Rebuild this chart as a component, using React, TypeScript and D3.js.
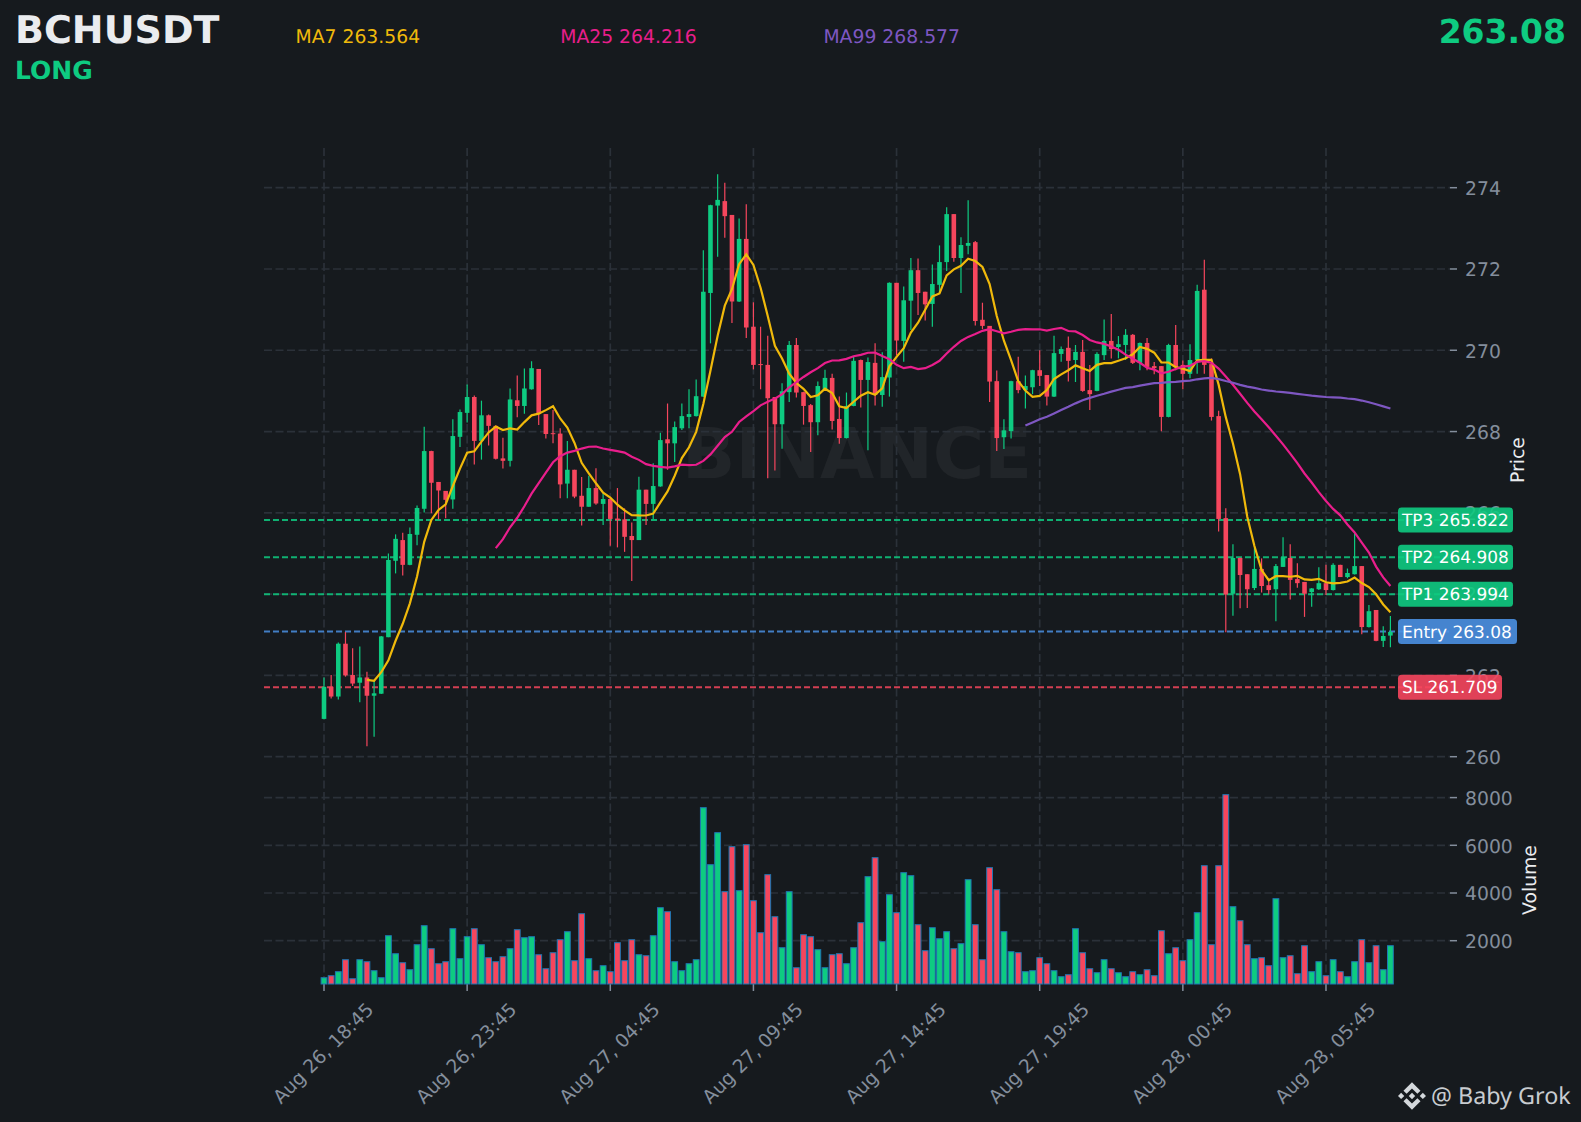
import { useEffect, useRef } from "react";
import * as d3 from "d3";

const opens = [
  260.93,261.72,261.48,262.78,262.01,261.82,261.95,261.50,261.55,262.94,
  264.82,265.33,264.72,265.46,266.10,267.52,266.76,266.54,266.33,267.87,
  268.46,268.85,267.77,268.40,268.14,267.34,267.28,268.77,268.63,269.04,
  269.54,268.43,267.96,267.95,266.72,267.06,266.42,266.15,266.61,266.22,
  266.34,265.86,265.84,265.43,265.33,266.57,266.22,266.65,267.81,267.71,
  268.08,268.36,268.38,268.86,271.41,273.56,273.67,273.33,271.20,272.74,
  270.58,269.66,269.64,268.85,268.18,268.97,270.13,268.97,268.65,268.23,
  269.02,269.32,268.31,267.84,268.63,269.76,269.27,269.69,268.90,269.33,
  271.66,270.23,271.22,271.97,271.44,271.14,271.61,272.17,273.35,272.27,
  272.57,272.66,270.75,270.60,269.24,267.86,268.01,269.24,269.02,269.09,
  269.51,269.39,268.86,269.91,270.06,269.76,269.96,269.02,269.00,269.88,
  270.23,270.08,270.13,270.38,269.69,270.18,269.61,269.61,268.36,270.13,
  269.64,269.42,269.76,271.49,269.66,268.38,265.87,264.01,264.89,264.49,
  264.15,264.62,264.22,264.12,264.67,264.89,264.37,264.30,264.05,264.12,
  264.27,264.10,264.72,264.42,264.49,264.69,263.19,263.61,262.85,262.98,
];
const highs = [
  261.95,262.01,262.81,263.07,262.67,262.71,262.09,261.89,262.97,265.00,
  265.47,265.51,265.64,266.18,268.12,267.53,266.76,266.54,268.30,268.54,
  269.16,268.89,268.76,268.42,268.15,267.85,269.06,269.38,269.55,269.73,
  269.54,268.43,268.53,268.08,267.77,267.06,266.88,266.91,267.10,266.48,
  266.35,266.61,266.11,265.76,266.89,266.57,267.22,267.97,268.69,268.25,
  268.69,269.04,269.28,272.46,273.58,274.33,274.12,273.33,273.24,273.59,
  271.18,270.58,270.36,268.85,269.19,270.23,270.30,268.98,268.68,269.23,
  269.52,269.42,268.86,268.96,269.84,269.77,269.82,270.17,269.95,271.67,
  271.66,271.57,272.27,272.26,271.44,272.11,272.58,273.52,273.35,272.78,
  273.69,272.69,271.17,270.60,269.50,268.30,269.25,269.84,269.38,269.52,
  270.00,269.39,270.36,270.09,270.34,270.13,270.25,269.64,269.95,270.76,
  270.89,270.35,270.52,270.40,270.19,270.30,269.71,269.61,270.16,270.62,
  269.75,270.15,271.61,272.23,269.80,268.51,266.11,265.23,264.90,264.49,
  265.13,264.88,264.39,264.74,265.40,265.23,264.76,264.30,264.15,264.66,
  264.72,264.76,264.72,264.63,265.50,264.69,263.73,263.61,263.21,263.46,
];
const lows = [
  260.92,261.43,261.41,261.97,261.74,261.34,260.26,260.49,261.54,262.94,
  264.51,264.46,264.71,265.20,266.01,265.99,265.84,265.87,266.10,267.62,
  268.22,267.19,267.31,267.66,267.31,267.09,267.14,268.35,268.44,269.03,
  268.16,267.83,267.71,266.36,266.36,266.36,265.69,266.15,266.20,265.70,
  265.19,265.15,265.04,264.32,265.33,265.70,265.84,266.64,267.06,267.25,
  268.04,268.08,268.37,268.85,270.17,272.30,272.77,270.67,271.19,270.30,
  269.53,269.04,266.85,267.04,267.58,268.73,268.84,268.17,267.50,267.91,
  269.01,268.05,267.70,267.83,268.62,268.59,267.54,268.64,268.61,268.86,
  269.88,269.72,270.50,270.87,270.73,270.58,271.41,271.95,272.18,271.41,
  272.36,270.61,270.52,268.73,267.52,267.57,267.83,268.94,268.57,268.92,
  269.12,268.64,268.85,269.72,269.23,269.22,268.98,268.53,268.99,269.76,
  269.80,269.80,269.76,269.66,269.51,269.51,269.41,268.01,268.35,269.51,
  269.04,269.31,269.42,269.42,268.27,265.54,263.06,263.47,263.65,263.66,
  264.10,264.04,264.00,263.33,264.67,263.87,264.16,263.44,263.69,264.10,
  263.98,264.09,264.42,264.39,264.48,263.01,263.18,262.84,262.70,262.69,
];
const closes = [
  261.72,261.48,262.78,262.00,261.80,261.95,261.50,261.56,262.96,264.84,
  265.36,264.72,265.48,266.12,267.52,266.74,266.55,266.32,267.89,268.48,
  268.85,267.77,268.40,268.14,267.33,267.28,268.79,268.63,269.06,269.56,
  268.43,267.94,267.94,266.70,267.06,266.40,266.15,266.61,266.23,266.34,
  265.85,265.82,265.41,265.33,266.57,266.22,266.66,267.79,267.71,268.11,
  268.38,268.43,268.87,271.44,273.57,273.70,273.30,271.20,272.74,270.56,
  269.64,269.64,268.82,268.18,268.99,270.13,268.96,268.63,268.23,269.12,
  269.32,268.26,267.84,268.63,269.74,269.27,269.71,268.90,269.34,271.66,
  270.24,271.23,271.97,271.41,271.13,271.63,272.17,273.35,272.27,272.59,
  272.64,270.72,270.60,269.23,267.84,268.03,269.24,269.02,269.12,269.51,
  269.37,268.86,269.93,270.03,269.74,269.96,269.00,268.92,269.91,270.23,
  270.03,270.15,270.38,269.69,270.18,269.59,269.56,268.36,270.13,269.59,
  269.42,269.76,271.46,269.64,268.36,265.85,263.99,264.89,264.47,264.12,
  264.62,264.20,264.10,264.69,264.91,264.35,264.27,264.01,264.14,264.27,
  264.10,264.72,264.42,264.52,264.69,263.19,263.58,262.85,262.97,263.07,
];
const volumes = [
  448,532,700,1203,406,1203,1119,741,448,2209,
  1454,1077,783,1832,2629,1664,1035,1119,2503,1245,
  2167,2503,1832,1287,1119,1329,1664,2461,2125,2167,
  1412,825,1496,2042,2377,1161,3132,1245,741,951,
  700,1916,1161,2042,1412,1370,2209,3384,3216,1119,
  741,1035,1203,7578,5187,6529,4055,5942,4097,6026,
  3677,2335,4768,3006,1706,4055,867,2251,2167,1622,
  867,1412,1454,1035,1706,2755,4684,5481,1958,3929,
  3174,4852,4726,2671,1580,2545,2083,2377,1664,1874,
  4558,2671,1203,5061,4139,2377,1538,1496,700,741,
  1287,1035,741,490,574,2503,1496,825,657,1203,
  825,657,490,700,574,783,532,2419,1454,1706,
  1161,2042,3174,5145,1832,5145,8123,3426,2838,1832,
  1245,1287,951,3761,1287,1370,616,1790,700,1119,
  532,1203,700,490,1119,2042,1077,1790,783,1790,
];

const xTickLabels = [
  "Aug 26, 18:45", "Aug 26, 23:45", "Aug 27, 04:45", "Aug 27, 09:45",
  "Aug 27, 14:45", "Aug 27, 19:45", "Aug 28, 00:45", "Aug 28, 05:45",
];
const priceTicks = [260, 262, 264, 266, 268, 270, 272, 274];
const volumeTicks = [2000, 4000, 6000, 8000];
const levelNames = ["TP3", "TP2", "TP1", "Entry", "SL"];
const levelValues = [265.822, 264.908, 263.994, 263.08, 261.709];
const levelLabels = ["TP3 265.822", "TP2 264.908", "TP1 263.994", "Entry 263.08", "SL 261.709"];
const levelBoxWidths = [115, 115, 115, 119, 104];
const maPeriods = [7, 25, 99];
const maLabels = ["MA7 263.564", "MA25 264.216", "MA99 268.577"];
const maLabelX = [295.5, 560.2, 823.4];

const W = 1581, H = 1122;
const BG = "#161A1E", GRID = "#2B3139", TICK = "#848E9C", UP = "#0ECB81", DOWN = "#F6465D";
const FONT = "'DejaVu Sans', sans-serif";
const maColors = ["#F0B90B", "#E91E8C", "#7E57C2"];

// rolling mean of the closes, same as the MA lines on the exchange chart
function rolling(vals: number[], n: number) {
  return vals.map((_, i) => (i < n - 1 ? null : d3.mean(vals.slice(i - n + 1, i + 1))!));
}

function levelColor(name: string) {
  if (name === "Entry") return "#4A90E2";
  if (name === "SL") return DOWN;
  return UP;
}

export default function App() {
  const ref = useRef<SVGSVGElement>(null);
  useEffect(() => {
    if (!ref.current) return;
    const svg = d3.select(ref.current);
    svg.selectAll("*").remove();
    const left = 264, right = 1450, top = 148, bottom = 984;

    const x = d3.scaleLinear([0, 149], [324, 1390.4]);
    const y = d3.scaleLinear([260, 274], [756.7, 187.7]);
    const vy = d3.scaleLinear([0, 8000], [988.4, 797.6]);
    const idx = d3.range(opens.length);
    const color = (i: number) => (closes[i] >= opens[i] ? UP : DOWN);

    svg.append("rect").attr("width", W).attr("height", H).attr("fill", BG);

    // watermark
    svg.append("text").attr("x", 857).attr("y", 478).attr("text-anchor", "middle")
      .attr("font-family", FONT).attr("font-weight", "bold").attr("font-size", 70)
      .attr("fill", "#fff").attr("fill-opacity", 0.05).text("BINANCE");

    // grid
    const grid = svg.append("g").attr("stroke", GRID).attr("stroke-width", 1.7).attr("stroke-dasharray", "8 3.5");
    xTickLabels.forEach((_, k) => {
      const px = x(k * 20);
      grid.append("line").attr("x1", px).attr("x2", px).attr("y1", top).attr("y2", bottom);
    });
    priceTicks.forEach((t) => {
      grid.append("line").attr("x1", left).attr("x2", right).attr("y1", y(t)).attr("y2", y(t));
    });
    volumeTicks.forEach((t) => {
      grid.append("line").attr("x1", left).attr("x2", right).attr("y1", vy(t)).attr("y2", vy(t));
    });

    // axis ticks and labels
    const axis = svg.append("g").attr("font-family", FONT).attr("font-size", 18.8).attr("fill", TICK);
    const yTick = (py: number, label: string) => {
      axis.append("line").attr("x1", right).attr("x2", right + 7).attr("y1", py).attr("y2", py)
        .attr("stroke", TICK).attr("stroke-width", 1.5);
      axis.append("text").attr("x", 1465).attr("y", py + 0.5).attr("dy", "0.36em").text(label);
    };
    priceTicks.forEach((t) => yTick(y(t), String(t)));
    volumeTicks.forEach((t) => yTick(vy(t), String(t)));
    xTickLabels.forEach((label, k) => {
      const px = x(k * 20);
      axis.append("line").attr("x1", px).attr("x2", px).attr("y1", bottom).attr("y2", bottom + 7)
        .attr("stroke", TICK).attr("stroke-width", 1.5);
      axis.append("text").attr("transform", `translate(${px - 1},1053) rotate(-45)`)
        .attr("text-anchor", "middle").attr("dy", "0.36em").text(label);
    });
    const axisTitle = (tx: number, ty: number, label: string) =>
      svg.append("text").attr("transform", `translate(${tx},${ty}) rotate(-90)`)
        .attr("text-anchor", "middle").attr("font-family", FONT).attr("font-size", 18.8)
        .attr("fill", "#EAECEF").text(label);
    axisTitle(1524, 460, "Price");
    axisTitle(1536, 880, "Volume");

    // level lines
    levelNames.forEach((name, k) => {
      svg.append("line").attr("x1", left).attr("x2", right)
        .attr("y1", y(levelValues[k])).attr("y2", y(levelValues[k]))
        .attr("stroke", levelColor(name)).attr("stroke-opacity", 0.85)
        .attr("stroke-width", 2).attr("stroke-dasharray", "6 3");
    });

    // volume bars
    svg.append("g").selectAll("rect").data(idx).enter().append("rect")
      .attr("x", (i) => x(i) - 2.9).attr("width", 5.8)
      .attr("y", (i) => vy(volumes[i])).attr("height", (i) => bottom - vy(volumes[i]))
      .attr("fill", color).attr("stroke", "#1F77B4").attr("stroke-width", 1);

    // candles
    const candles = svg.append("g");
    candles.selectAll("line").data(idx).enter().append("line")
      .attr("x1", (i) => x(i)).attr("x2", (i) => x(i))
      .attr("y1", (i) => y(highs[i])).attr("y2", (i) => y(lows[i]))
      .attr("stroke", color).attr("stroke-width", 1.2);
    candles.selectAll("rect").data(idx).enter().append("rect")
      .attr("x", (i) => x(i) - 2.3).attr("width", 4.6)
      .attr("y", (i) => y(Math.max(opens[i], closes[i])))
      .attr("height", (i) => Math.max(1, Math.abs(y(opens[i]) - y(closes[i]))))
      .attr("fill", color);

    // moving averages
    const line = d3.line<number | null>().defined((d) => d !== null)
      .x((_, i) => x(i)).y((d) => y(d as number));
    maPeriods.forEach((n, k) => {
      svg.append("path").attr("d", line(rolling(closes, n))!)
        .attr("fill", "none").attr("stroke", maColors[k]).attr("stroke-width", 2.2);
    });

    // level tags
    levelNames.forEach((name, k) => {
      const py = y(levelValues[k]);
      svg.append("rect").attr("x", 1398).attr("y", py - 12.5).attr("width", levelBoxWidths[k]).attr("height", 25)
        .attr("rx", 3.5).attr("fill", levelColor(name)).attr("fill-opacity", 0.9);
      svg.append("text").attr("x", 1402).attr("y", py).attr("dy", "0.36em")
        .attr("font-family", FONT).attr("font-size", 16.95).attr("fill", "#fff").text(levelLabels[k]);
    });

    // header
    const head = (tx: number, ty: number, size: number, fill: string, label: string, bold = false) =>
      svg.append("text").attr("x", tx).attr("y", ty).attr("font-family", FONT).attr("font-size", size)
        .attr("font-weight", bold ? "bold" : "normal").attr("fill", fill).text(label);
    head(15, 43, 38, "#EAECEF", "BCHUSDT", true);
    head(15, 79, 25, UP, "LONG", true);
    maLabels.forEach((label, k) => head(maLabelX[k], 43, 18.8, maColors[k], label));
    head(1566, 43, 33, UP, "263.08", true).attr("text-anchor", "end");

    // footer logo and handle
    const logo = svg.append("g").attr("transform", "translate(1398,1082) scale(0.222)").attr("fill", "#D4D8DC");
    [
      "M38.73 53.2L63 28.93 87.28 53.21 101.4 39.09 63 .69 24.61 39.09z",
      "M0 63L14.12 48.88 28.24 63 14.12 77.12z",
      "M48.68 63L63 48.68 77.32 63 63 77.32z",
      "M97.76 63L111.88 48.88 126 63 111.88 77.12z",
      "M38.73 72.8L63 97.07 87.28 72.79 101.4 86.9 63 125.3 24.6 86.9z",
    ].forEach((d) => logo.append("path").attr("d", d));
    svg.append("text").attr("x", 1431).attr("y", 1104).attr("font-family", "'Noto Sans', sans-serif")
      .attr("font-size", 23.3).attr("fill", "#C8CCD0").text("@ Baby Grok");
  }, []);
  return (
    <svg ref={ref} width={W} height={H}
      style={{ position: "absolute", left: 0, top: 0, display: "block", textRendering: "geometricPrecision" }} />
  );
}
